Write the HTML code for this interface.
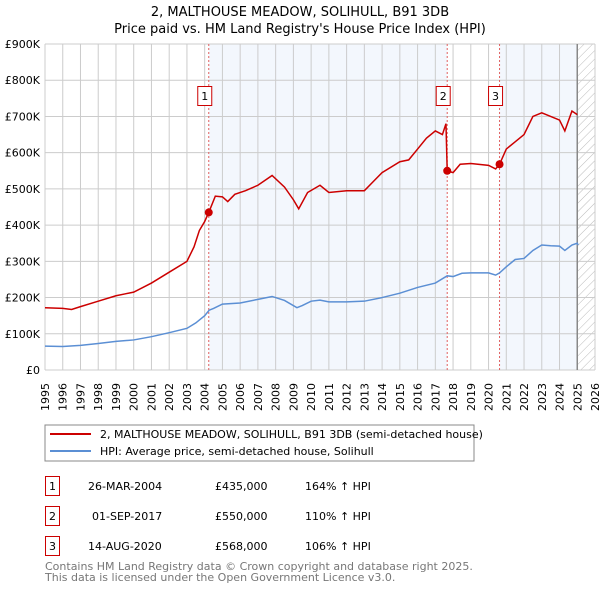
<!DOCTYPE html>
<html><head><meta charset="utf-8"><style>
body{margin:0;background:#fff;font-family:"DejaVu Sans","Liberation Sans",sans-serif;}
svg text{font-family:"DejaVu Sans","Liberation Sans",sans-serif;}
</style></head><body>
<svg id="chart" width="600" height="590" xmlns="http://www.w3.org/2000/svg">
<defs><pattern id="hatch" width="6" height="6" patternUnits="userSpaceOnUse" patternTransform="rotate(45)"><line x1="0" y1="0" x2="0" y2="6" stroke="#bbb" stroke-width="1"/></pattern></defs>
<text x="300" y="16" text-anchor="middle" font-size="13">2, MALTHOUSE MEADOW, SOLIHULL, B91 3DB</text>
<text x="300" y="33" text-anchor="middle" font-size="13">Price paid vs. HM Land Registry's House Price Index (HPI)</text>
<g id="plot"></g>
<g>
<rect x="45" y="425" width="429" height="36" fill="#fff" stroke="#888"/>
<line x1="50" y1="434" x2="91" y2="434" stroke="#cc0000" stroke-width="2"/>
<text x="100" y="438" font-size="11">2, MALTHOUSE MEADOW, SOLIHULL, B91 3DB (semi-detached house)</text>
<line x1="50" y1="451" x2="91" y2="451" stroke="#5b8fd4" stroke-width="2"/>
<text x="100" y="455" font-size="11">HPI: Average price, semi-detached house, Solihull</text>
</g>
<g font-size="11">
<rect x="45.5" y="476.5" width="14" height="19" fill="none" stroke="#cc0000"/><text x="52.5" y="490" text-anchor="middle">1</text>
<text x="88" y="490">26-MAR-2004</text><text x="215" y="490">£435,000</text><text x="305" y="490">164% ↑ HPI</text>
<rect x="45.5" y="506.5" width="14" height="19" fill="none" stroke="#cc0000"/><text x="52.5" y="520" text-anchor="middle">2</text>
<text x="92" y="520">01-SEP-2017</text><text x="215" y="520">£550,000</text><text x="305" y="520">110% ↑ HPI</text>
<rect x="45.5" y="536.5" width="14" height="19" fill="none" stroke="#cc0000"/><text x="52.5" y="550" text-anchor="middle">3</text>
<text x="88" y="550">14-AUG-2020</text><text x="215" y="550">£568,000</text><text x="305" y="550">106% ↑ HPI</text>
</g>
<text x="45" y="570" font-size="11" fill="#777">Contains HM Land Registry data © Crown copyright and database right 2025.</text>
<text x="45" y="581" font-size="11" fill="#777">This data is licensed under the Open Government Licence v3.0.</text>
</svg>
<script>
const hpiYears=[1995,1996,1997,1998,1999,2000,2001,2002,2003,2003.5,2004,2004.25,2004.5,2005,2006,2007,2007.8,2008.5,2009.2,2009.5,2010,2010.5,2011,2012,2013,2014,2015,2016,2017,2017.67,2018,2018.5,2019,2020,2020.4,2020.62,2021,2021.5,2022,2022.5,2023,2023.5,2024,2024.3,2024.7,2025,2025.05];
const hpiValues=[66,65,68,73,79,83,92,103,115,130,150,165,170,182,185,195,203,192,172,178,190,193,188,188,190,200,212,228,240,260,258,267,268,268,262,268,285,305,308,330,345,343,342,330,345,350,345];
const priceYears=[1995,1996,1996.5,1997,1998,1999,1999.5,2000,2001,2002,2003,2003.4,2003.7,2004,2004.23,2004.6,2005,2005.3,2005.7,2006.3,2007,2007.8,2008.5,2009,2009.3,2009.8,2010.5,2011,2012,2013,2013.5,2014,2015,2015.5,2016,2016.5,2017,2017.4,2017.6,2017.67,2018,2018.4,2019,2020,2020.4,2020.62,2021,2021.5,2022,2022.5,2023,2023.5,2024,2024.3,2024.7,2025];
const priceValues=[172,170,167,175,190,205,210,215,240,270,300,340,385,410,435,480,478,465,485,495,510,537,505,470,445,490,510,490,495,495,520,545,575,580,610,640,660,650,680,550,545,568,570,565,555,568,610,630,650,700,710,700,690,660,715,705];
const saleYears=[2004.23,2017.67,2020.62];
const saleValues=[435,550,568];
const saleLabels=["1","2","3"];
const yTicks=[0,100,200,300,400,500,600,700,800,900];
const yTickLabels=["£0","£100K","£200K","£300K","£400K","£500K","£600K","£700K","£800K","£900K"];
const xTicks=[];for(let y=1995;y<=2026;y++)xTicks.push(y);

const L=45,R=595,T=44,B=370,X0=1995,X1=2026;
const xs=v=>L+(v-X0)/(X1-X0)*(R-L);
const ys=v=>B-v/900*(B-T);
const NS="http://www.w3.org/2000/svg";
const g=document.getElementById('plot');
function mk(tag,attrs){const e=document.createElementNS(NS,tag);for(const k in attrs)e.setAttribute(k,attrs[k]);g.appendChild(e);return e;}

let e=mk('rect',{x:xs(saleYears[0]),y:T,width:xs(saleYears[1])-xs(saleYears[0]),height:B-T,fill:'#eef3fc',opacity:0.7});


e=mk('rect',{x:xs(saleYears[2]),y:T,width:xs(2025)-xs(saleYears[2]),height:B-T,fill:'#eef3fc',opacity:0.7});


e=mk('rect',{x:xs(2025),y:T,width:R-xs(2025),height:B-T,fill:'url(#hatch)'});



xTicks.forEach(t=>{const l=mk('line',{x1:xs(t),x2:xs(t),y1:T,y2:B,stroke:'#ccc','stroke-width':1});


const tx=mk('text',{x:0,y:0,transform:`translate(${xs(t)+4},${383}) rotate(-90)`,'text-anchor':'end','font-size':11});tx.textContent=t;

});
yTicks.forEach((t,i)=>{const l=mk('line',{x1:L,x2:R,y1:ys(t),y2:ys(t),stroke:'#ccc','stroke-width':1});


const tx=mk('text',{x:L-5,y:ys(t)+4,'text-anchor':'end','font-size':11});tx.textContent=yTickLabels[i];

});
e=mk('line',{x1:xs(2025),x2:xs(2025),y1:T,y2:B,stroke:'#888','stroke-width':1.5});



saleYears.forEach((s,i)=>{const l=mk('line',{x1:xs(s),x2:xs(s),y1:T,y2:B,stroke:'#e06060','stroke-dasharray':'2,2','stroke-width':1});


const r=mk('rect',{x:xs(s)-11,y:86.5,width:14,height:19,fill:'#fff',stroke:'#cc0000'});


const t=mk('text',{x:xs(s)-4,y:100,'text-anchor':'middle','font-size':11});t.textContent=saleLabels[i];

});

const hp=mk('polyline',{points:hpiYears.map((y,i)=>xs(y)+','+ys(hpiValues[i])).join(' '),fill:'none',stroke:'#5b8fd4','stroke-width':1.5});


const pp=mk('polyline',{points:priceYears.map((y,i)=>xs(y)+','+ys(priceValues[i])).join(' '),fill:'none',stroke:'#cc0000','stroke-width':1.5});


saleYears.forEach((s,i)=>{const c=mk('circle',{cx:xs(s),cy:ys(saleValues[i]),r:4,fill:'#cc0000'});

});
</script>
</body></html>
